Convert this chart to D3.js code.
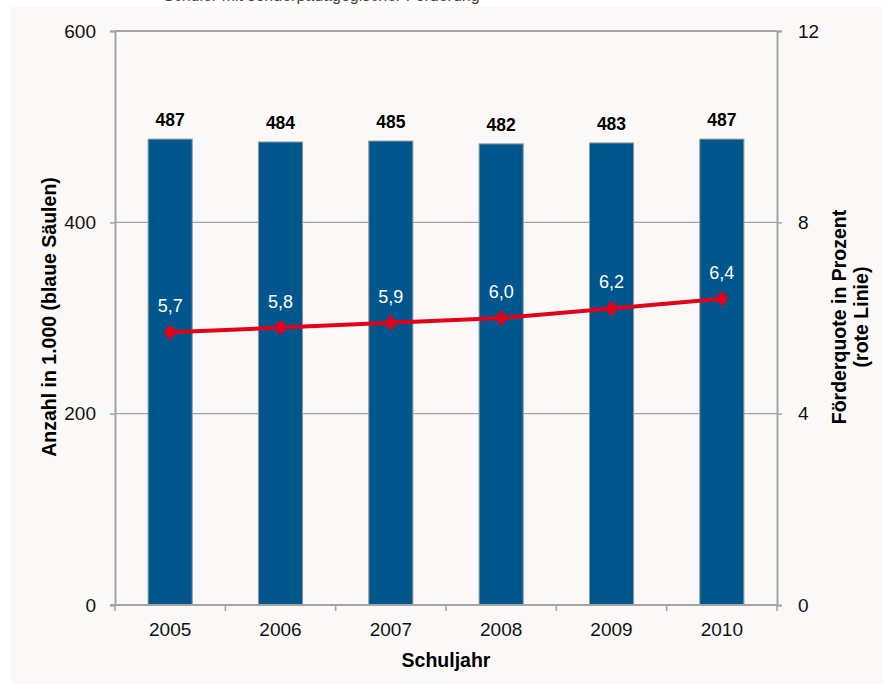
<!DOCTYPE html>
<html>
<head>
<meta charset="utf-8">
<script src="https://cdn.jsdelivr.net/npm/d3@7"></script>
<style>
  html, body { margin: 0; padding: 0; background: #ffffff; }
  svg { display: block; font-family: "Liberation Sans", Arial, sans-serif; }
</style>
</head>
<body>
<svg id="chart" width="883" height="686"></svg>
<script>
// Schuljahre und Werte
const years = ["2005", "2006", "2007", "2008", "2009", "2010"];
const counts = [487, 484, 485, 482, 483, 487];          // Anzahl in 1.000
const rates = [5.7, 5.8, 5.9, 6.0, 6.2, 6.4];            // Förderquote in %
const rateLabels = ["5,7", "5,8", "5,9", "6,0", "6,2", "6,4"];
const leftTicks = [0, 200, 400, 600];
const rightTicks = [0, 4, 8, 12];

const svg = d3.select("#chart");

// Hintergrundfläche
svg.append("rect").attr("x", 10).attr("y", 7).attr("width", 873).attr("height", 677)
  .attr("fill", "#faf9f7");

// abgeschnittene Überschrift am oberen Rand
svg.append("text").attr("x", 163).attr("y", 0.5)
  .attr("font-size", 16).attr("fill", "#444")
  .text("Schüler mit sonderpädagogischer Förderung");

const plotLeft = 115, plotRight = 777, plotTop = 31, plotBottom = 605;

const x = d3.scaleBand().domain(years).range([plotLeft, plotRight]).paddingInner(0).paddingOuter(0);
const yL = d3.scaleLinear().domain([0, 600]).range([plotBottom, plotTop]);
const yR = d3.scaleLinear().domain([0, 12]).range([plotBottom, plotTop]);

const gridColor = "#a3a3a3";

// Gitterlinien
svg.append("g").selectAll("line").data(leftTicks.filter(d => d > 0)).join("line")
  .attr("x1", plotLeft).attr("x2", plotRight)
  .attr("y1", d => yL(d)).attr("y2", d => yL(d))
  .attr("stroke", gridColor).attr("stroke-width", d => d === 600 ? 2 : 1.3);

// Säulen
const barW = x.bandwidth() * 0.4;
svg.append("g").selectAll("rect").data(years).join("rect")
  .attr("x", d => x(d) + (x.bandwidth() - barW) / 2)
  .attr("y", (d, i) => yL(counts[i]))
  .attr("width", barW)
  .attr("height", (d, i) => plotBottom - yL(counts[i]))
  .attr("fill", "#01568e")
  .attr("stroke", "#9a9a9a").attr("stroke-width", 1);

// Achsen
const axL = svg.append("g").attr("transform", `translate(${plotLeft},0)`)
  .call(d3.axisLeft(yL).tickValues(leftTicks).tickSize(5).tickPadding(14).tickFormat(d3.format("d")));
const axR = svg.append("g").attr("transform", `translate(${plotRight},0)`)
  .call(d3.axisRight(yR).tickValues(rightTicks).tickSize(5).tickPadding(16).tickFormat(d3.format("d")));
const axB = svg.append("g").attr("transform", `translate(0,${plotBottom})`)
  .call(d3.axisBottom(x).tickSize(0).tickPadding(18));

[axL, axR].forEach(a => {
  a.select(".domain").attr("stroke", gridColor).attr("stroke-width", 2);
  a.selectAll(".tick line").attr("stroke", gridColor).attr("stroke-width", 1.5);
});
axB.select(".domain").remove();
// Grundlinie und Trennstriche zwischen den Kategorien
svg.append("line").attr("x1", plotLeft - 5).attr("x2", plotRight).attr("y1", plotBottom).attr("y2", plotBottom)
  .attr("stroke", gridColor).attr("stroke-width", 2);
svg.append("g").selectAll("line").data(years.concat(["end"])).join("line")
  .attr("x1", (d, i) => plotLeft + i * x.bandwidth()).attr("x2", (d, i) => plotLeft + i * x.bandwidth())
  .attr("y1", plotBottom).attr("y2", plotBottom + 6)
  .attr("stroke", gridColor).attr("stroke-width", 1.5);

svg.selectAll(".tick text").attr("font-size", 19).attr("fill", "#111")
  .attr("font-family", "'Liberation Sans', Arial, sans-serif");

// Linie Förderquote
const cx = d => x(d) + x.bandwidth() / 2;
const line = d3.line().x((d, i) => cx(years[i])).y(d => yR(d));
svg.append("path").datum(rates).attr("d", line)
  .attr("fill", "none").attr("stroke", "#e2001a").attr("stroke-width", 4);
svg.append("g").selectAll("path").data(rates).join("path")
  .attr("transform", (d, i) => `translate(${cx(years[i])},${yR(d)})`)
  .attr("d", "M0,-8L6.5,0L0,8L-6.5,0Z")
  .attr("fill", "#e2001a");

// Werte der Säulen
svg.append("g").selectAll("text").data(counts).join("text")
  .attr("x", (d, i) => cx(years[i]))
  .attr("y", d => yL(d) - 13)
  .attr("text-anchor", "middle").attr("font-size", 17.5).attr("font-weight", "bold").attr("fill", "#000")
  .text(d => d);

// Werte der Linie
svg.append("g").selectAll("text").data(rates).join("text")
  .attr("x", (d, i) => cx(years[i]))
  .attr("y", d => yR(d) - 20)
  .attr("text-anchor", "middle").attr("font-size", 18).attr("fill", "#ffffff")
  .text((d, i) => rateLabels[i]);

// Achsentitel
svg.append("text").attr("x", (plotLeft + plotRight) / 2).attr("y", 667)
  .attr("text-anchor", "middle").attr("font-size", 19.5).attr("font-weight", "bold")
  .text("Schuljahr");
svg.append("text").attr("transform", "translate(56,317) rotate(-90)")
  .attr("text-anchor", "middle").attr("font-size", 19.5).attr("font-weight", "bold")
  .text("Anzahl in 1.000 (blaue Säulen)");
const rt = svg.append("text").attr("transform", "translate(846,317) rotate(-90)")
  .attr("text-anchor", "middle").attr("font-size", 19.5).attr("font-weight", "bold");
rt.append("tspan").attr("x", 0).attr("dy", 0).text("Förderquote in Prozent");
rt.append("tspan").attr("x", 0).attr("dy", 22).text("(rote Linie)");
</script>
</body>
</html>
